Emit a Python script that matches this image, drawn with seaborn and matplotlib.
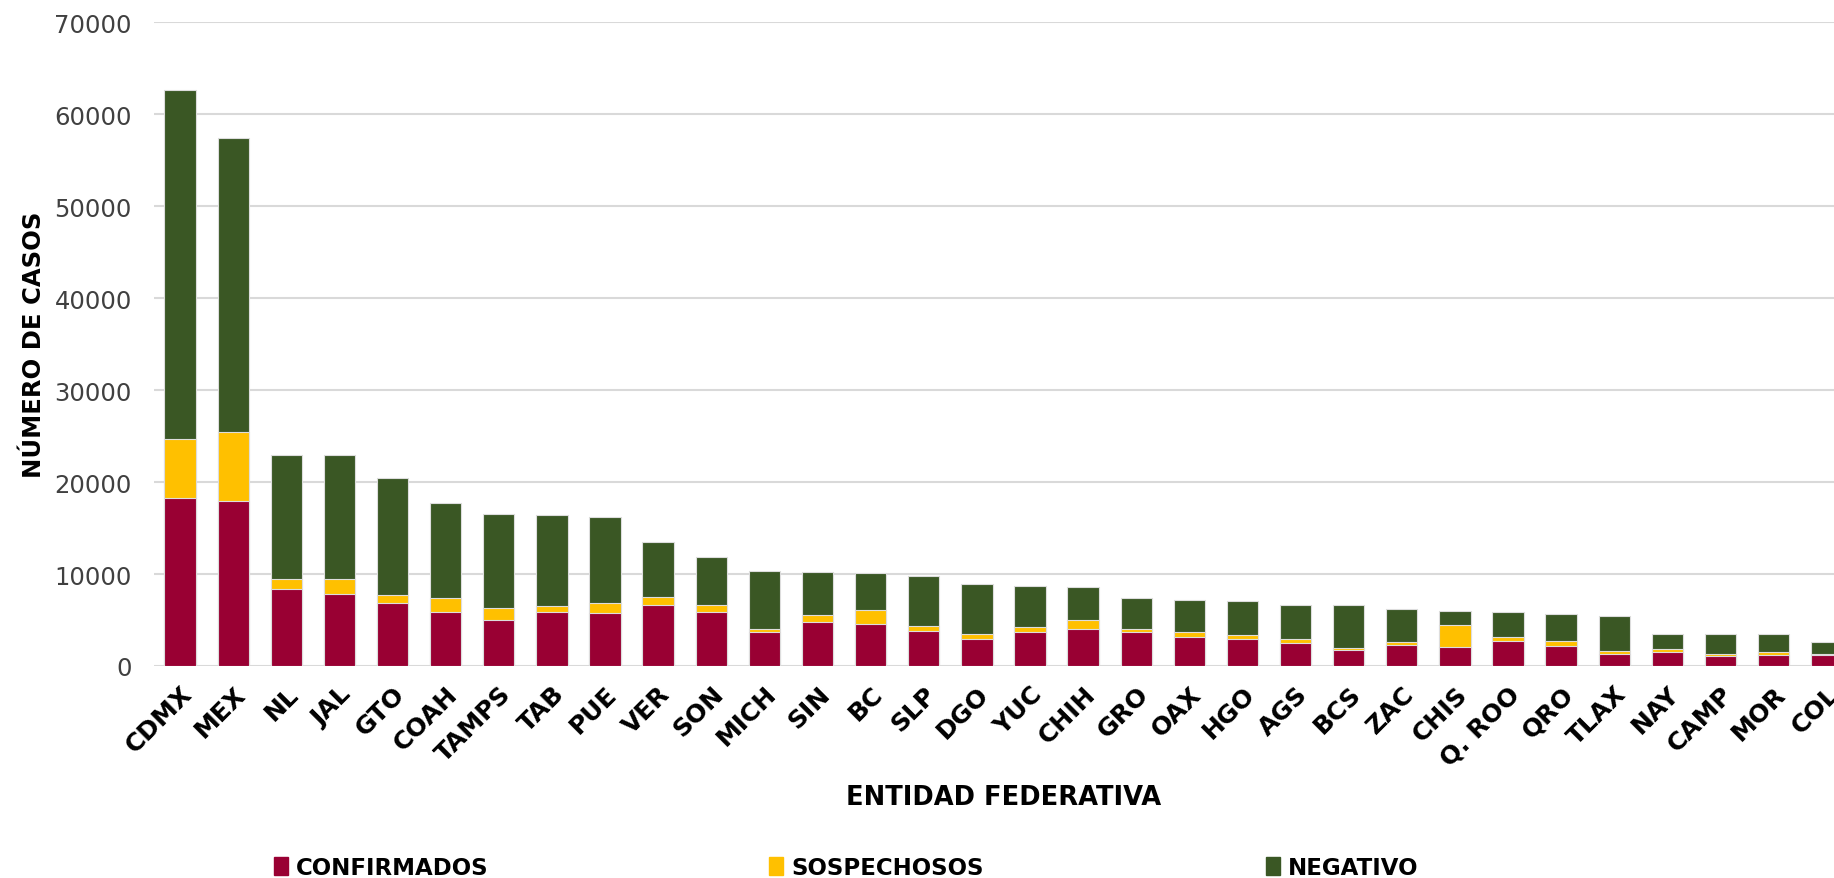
import pandas as pd
import matplotlib.pyplot as plt
import seaborn as sns
from matplotlib.patches import Patch

# Datos por entidad federativa
entidades = ['CDMX', 'MEX', 'NL', 'JAL', 'GTO', 'COAH', 'TAMPS', 'TAB', 'PUE', 'VER',
             'SON', 'MICH', 'SIN', 'BC', 'SLP', 'DGO', 'YUC', 'CHIH', 'GRO', 'OAX',
             'HGO', 'AGS', 'BCS', 'ZAC', 'CHIS', 'Q. ROO', 'QRO', 'TLAX', 'NAY', 'CAMP',
             'MOR', 'COL']
confirmados = [18300, 17960, 8400, 7860, 6800, 5870, 5050, 5870, 5730, 6680,
               5920, 3680, 4800, 4550, 3790, 2920, 3680, 4040, 3680, 3180,
               2930, 2460, 1700, 2320, 2100, 2680, 2170, 1300, 1560, 1090,
               1200, 1200]
sospechosos = [6400, 7430, 1020, 1650, 870, 1510, 1210, 630, 1160, 870,
               760, 290, 760, 1550, 540, 510, 540, 1010, 290, 500,
               400, 510, 250, 250, 2360, 430, 540, 290, 250, 250,
               360, 150]
negativos = [37970, 31990, 13540, 13450, 12770, 10290, 10290, 9900, 9270, 5920,
             5160, 6350, 4660, 3970, 5490, 5490, 4480, 3540, 3470, 3540,
             3770, 3620, 4640, 3660, 1520, 2720, 2970, 3880, 1670, 2140,
             1920, 1230]

df = pd.DataFrame({'entidad': entidades, 'conf': confirmados,
                   'sosp': sospechosos, 'neg': negativos})
df['nivel_sosp'] = df['conf'] + df['sosp']
df['total'] = df['nivel_sosp'] + df['neg']

c_conf = '#990033'
c_sosp = '#FFC000'
c_neg = '#3A5724'

sns.set_style('white')
plt.rcParams['font.family'] = ['DejaVu Sans']

fig = plt.figure(figsize=(18.34, 8.79), dpi=100)
ax = fig.add_axes([0.084, 0.2412, 0.9265, 0.7324])

# barras apiladas: se dibujan los acumulados de mayor a menor
kw = dict(width=0.59, edgecolor='#dddddd', linewidth=0.8, ax=ax, zorder=3)
sns.barplot(data=df, x='entidad', y='total', color=c_neg, saturation=1, **kw)
sns.barplot(data=df, x='entidad', y='nivel_sosp', color=c_sosp, saturation=1, **kw)
sns.barplot(data=df, x='entidad', y='conf', color=c_conf, saturation=1, **kw)

ax.set_ylim(0, 70000)
ax.set_xlim(-0.49, 31.5)
ax.set_yticks(range(0, 70001, 10000))
ax.yaxis.grid(True, color='#d9d9d9', linewidth=1.5, zorder=0)
ax.xaxis.grid(False)
for s in ax.spines.values():
    s.set_visible(False)
ax.tick_params(axis='both', length=0)
ax.tick_params(axis='y', labelsize=17.5, labelcolor='#404040', pad=16)
plt.setp(ax.get_xticklabels(), rotation=45, ha='right', rotation_mode='anchor',
         fontsize=18, fontweight='bold', color='black')
ax.tick_params(axis='x', pad=11)

ax.set_xlabel('ENTIDAD FEDERATIVA', fontsize=18.5, fontweight='bold',
              color='black', labelpad=10)
ax.set_ylabel('NÚMERO DE CASOS', fontsize=17.5, fontweight='bold',
              color='black', labelpad=6)

# leyenda inferior, una entrada por posición
items = [(c_conf, 'CONFIRMADOS', 0.1495),
         (c_sosp, 'SOSPECHOSOS', 0.4195),
         (c_neg, 'NEGATIVO', 0.6905)]
for color, texto, x0 in items:
    fig.legend(handles=[Patch(color=color, label=texto)], loc='center left',
               bbox_to_anchor=(x0, 0.012), frameon=False, handlelength=0.6,
               handleheight=0.85, handletextpad=0.35, borderpad=0, borderaxespad=0,
               labelcolor='black', prop={'size': 16.5, 'weight': 'bold'})

plt.savefig('out.png', dpi=100)
